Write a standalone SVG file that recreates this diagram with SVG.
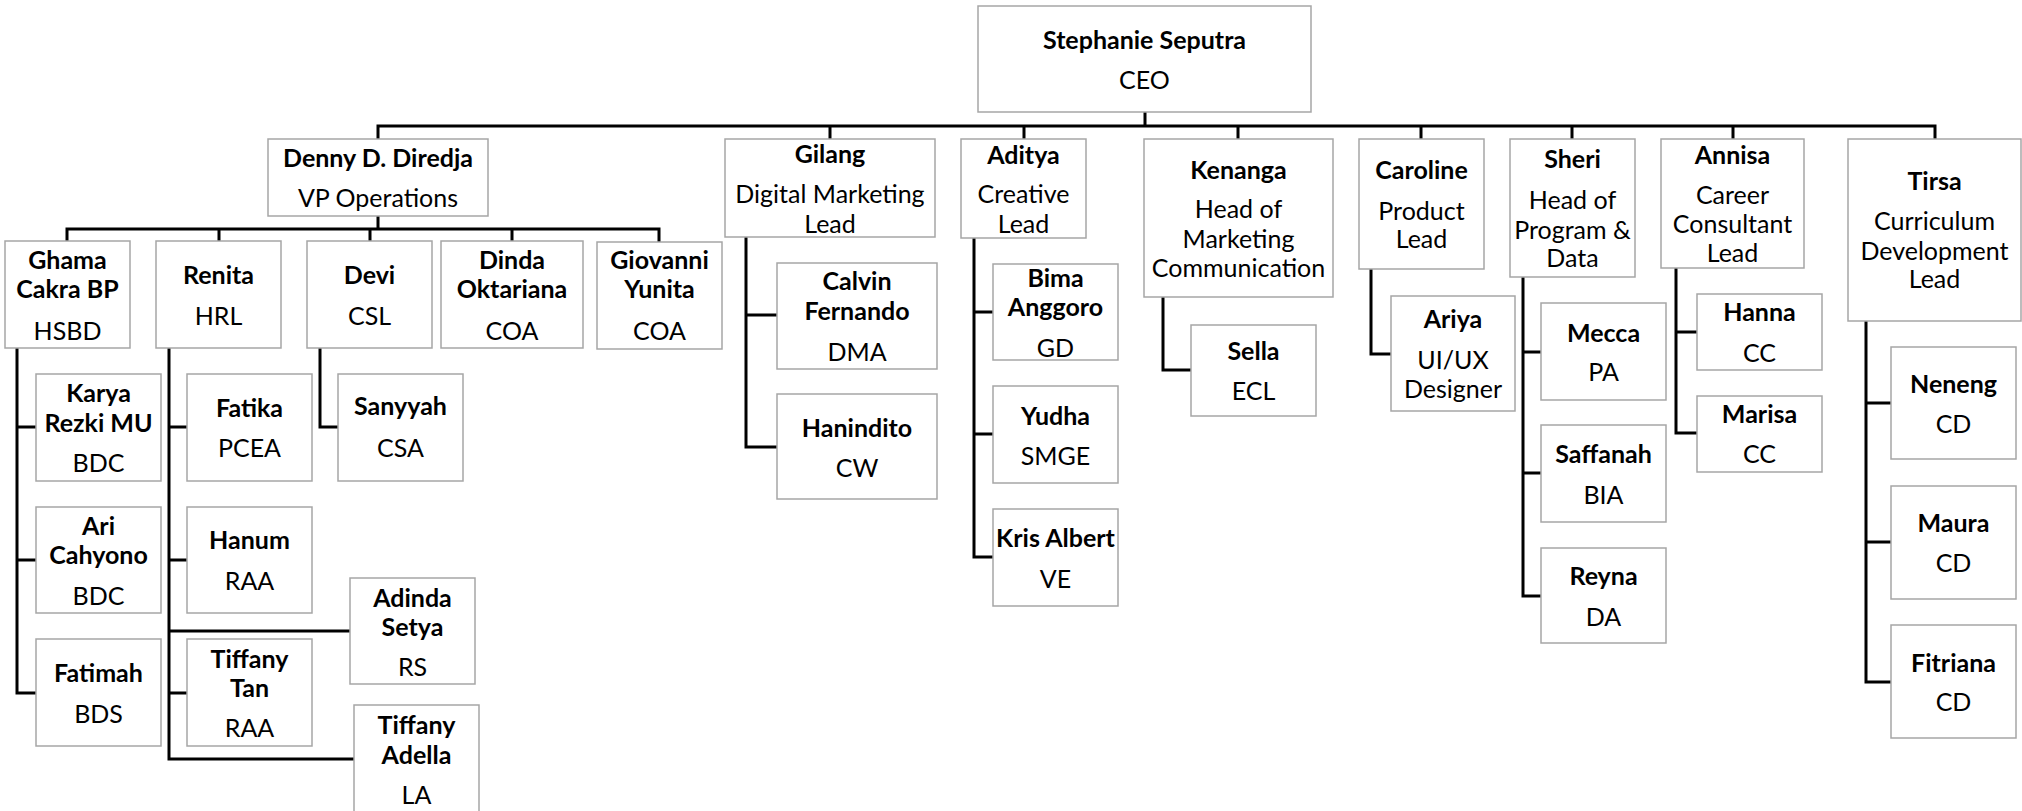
<svg xmlns="http://www.w3.org/2000/svg" width="2022" height="811" viewBox="0 0 2022 811">
<style>
  .box { fill: #ffffff; stroke: #a6a6a6; stroke-width: 1.5; }
  .n { font-family: Lato, "Liberation Sans", sans-serif; font-weight: bold; font-size: 25px; fill: #000; text-anchor: middle; dominant-baseline: central; }
  .t { font-family: Lato, "Liberation Sans", sans-serif; font-size: 25px; fill: #000; text-anchor: middle; dominant-baseline: central; }
  .c { fill: none; stroke: #000; stroke-width: 3; stroke-linecap: square; }
</style>
<rect width="2022" height="811" fill="#ffffff"/>
<g id="connectors">
  <path class="c" d="M1145 112 V126 M378 126 H1935 M378 126 V139 M830 126 V139 M1024 126 V139 M1238 126 V139 M1421 126 V139 M1572 126 V139 M1733 126 V139 M1935 126 V139"/>
  <path class="c" d="M378 216 V229 M67 229 H659 M67 229 V241 M219 229 V241 M370 229 V241 M512 229 V241 M659 229 V241"/>
  <path class="c" d="M17 348 V693 M17 427 H36 M17 560 H36 M17 693 H36"/>
  <path class="c" d="M169 348 V759 M169 427 H187 M169 560 H187 M169 631 H350 M169 693 H187 M169 759 H354"/>
  <path class="c" d="M320 348 V427 H338"/>
  <path class="c" d="M746 237 V447 M746 315 H777 M746 447 H777"/>
  <path class="c" d="M974 238 V557 M974 312 H993 M974 434 H993 M974 557 H993"/>
  <path class="c" d="M1163 297 V370 H1191"/>
  <path class="c" d="M1371 269 V354 H1391"/>
  <path class="c" d="M1523 277 V596 M1523 352 H1541 M1523 473 H1541 M1523 596 H1541"/>
  <path class="c" d="M1676 268 V433 M1676 332 H1697 M1676 433 H1697"/>
  <path class="c" d="M1866 321 V682 M1866 403 H1891 M1866 542 H1891 M1866 682 H1891"/>
</g>
<g id="ceo"><rect class="box" x="978" y="6" width="333" height="106"/><text class="n" x="1144.5" y="39">Stephanie Seputra</text><text class="t" x="1144.5" y="79">CEO</text></g>
<g id="denny"><rect class="box" x="268" y="139" width="220" height="77"/><text class="n" x="378" y="157">Denny D. Diredja</text><text class="t" x="378" y="197">VP Operations</text></g>
<g id="gilang"><rect class="box" x="725" y="139" width="210" height="98"/><text class="n" x="830" y="153">Gilang</text><text class="t" x="830" y="193">Digital Marketing</text><text class="t" x="830" y="223">Lead</text></g>
<g id="aditya"><rect class="box" x="961" y="139" width="125" height="99"/><text class="n" x="1023.5" y="154">Aditya</text><text class="t" x="1023.5" y="193">Creative</text><text class="t" x="1023.5" y="223">Lead</text></g>
<g id="kenanga"><rect class="box" x="1144" y="139" width="189" height="158"/><text class="n" x="1238.5" y="169">Kenanga</text><text class="t" x="1238.5" y="208">Head of</text><text class="t" x="1238.5" y="238">Marketing</text><text class="t" x="1238.5" y="267">Communication</text></g>
<g id="caroline"><rect class="box" x="1359" y="139" width="125" height="130"/><text class="n" x="1421.5" y="169">Caroline</text><text class="t" x="1421.5" y="210">Product</text><text class="t" x="1421.5" y="238">Lead</text></g>
<g id="sheri"><rect class="box" x="1510" y="139" width="125" height="138"/><text class="n" x="1572.5" y="158">Sheri</text><text class="t" x="1572.5" y="199">Head of</text><text class="t" x="1572.5" y="229">Program &amp;</text><text class="t" x="1572.5" y="257">Data</text></g>
<g id="annisa"><rect class="box" x="1661" y="139" width="143" height="129"/><text class="n" x="1732.5" y="154">Annisa</text><text class="t" x="1732.5" y="194">Career</text><text class="t" x="1732.5" y="223">Consultant</text><text class="t" x="1732.5" y="252">Lead</text></g>
<g id="tirsa"><rect class="box" x="1848" y="139" width="173" height="182"/><text class="n" x="1934.5" y="180">Tirsa</text><text class="t" x="1934.5" y="220">Curriculum</text><text class="t" x="1934.5" y="250">Development</text><text class="t" x="1934.5" y="278">Lead</text></g>
<g id="ghama"><rect class="box" x="5" y="241" width="125" height="107"/><text class="n" x="67.5" y="259">Ghama</text><text class="n" x="67.5" y="288">Cakra BP</text><text class="t" x="67.5" y="330">HSBD</text></g>
<g id="renita"><rect class="box" x="156" y="241" width="125" height="107"/><text class="n" x="218.5" y="274">Renita</text><text class="t" x="218.5" y="315">HRL</text></g>
<g id="devi"><rect class="box" x="307" y="241" width="125" height="107"/><text class="n" x="369.5" y="274">Devi</text><text class="t" x="369.5" y="315">CSL</text></g>
<g id="dinda"><rect class="box" x="441" y="241" width="142" height="107"/><text class="n" x="512" y="259">Dinda</text><text class="n" x="512" y="288">Oktariana</text><text class="t" x="512" y="330">COA</text></g>
<g id="giovanni"><rect class="box" x="597" y="242" width="125" height="107"/><text class="n" x="659.5" y="259">Giovanni</text><text class="n" x="659.5" y="288">Yunita</text><text class="t" x="659.5" y="330">COA</text></g>
<g id="karya"><rect class="box" x="36" y="374" width="125" height="107"/><text class="n" x="98.5" y="392">Karya</text><text class="n" x="98.5" y="422">Rezki MU</text><text class="t" x="98.5" y="462">BDC</text></g>
<g id="ari"><rect class="box" x="36" y="507" width="125" height="106"/><text class="n" x="98.5" y="525">Ari</text><text class="n" x="98.5" y="554">Cahyono</text><text class="t" x="98.5" y="595">BDC</text></g>
<g id="fatimah"><rect class="box" x="36" y="639" width="125" height="107"/><text class="n" x="98.5" y="672">Fatimah</text><text class="t" x="98.5" y="713">BDS</text></g>
<g id="fatika"><rect class="box" x="187" y="374" width="125" height="107"/><text class="n" x="249.5" y="407">Fatika</text><text class="t" x="249.5" y="447">PCEA</text></g>
<g id="hanum"><rect class="box" x="187" y="507" width="125" height="106"/><text class="n" x="249.5" y="539">Hanum</text><text class="t" x="249.5" y="580">RAA</text></g>
<g id="adinda"><rect class="box" x="350" y="578" width="125" height="106"/><text class="n" x="412.5" y="597">Adinda</text><text class="n" x="412.5" y="626">Setya</text><text class="t" x="412.5" y="666">RS</text></g>
<g id="tiffany-tan"><rect class="box" x="187" y="639" width="125" height="107"/><text class="n" x="249.5" y="658">Tiffany</text><text class="n" x="249.5" y="687">Tan</text><text class="t" x="249.5" y="727">RAA</text></g>
<g id="tiffany-adella"><rect class="box" x="354" y="705" width="125" height="110"/><text class="n" x="416.5" y="724">Tiffany</text><text class="n" x="416.5" y="754">Adella</text><text class="t" x="416.5" y="794">LA</text></g>
<g id="sanyyah"><rect class="box" x="338" y="374" width="125" height="107"/><text class="n" x="400.5" y="405">Sanyyah</text><text class="t" x="400.5" y="447">CSA</text></g>
<g id="calvin"><rect class="box" x="777" y="263" width="160" height="106"/><text class="n" x="857" y="280">Calvin</text><text class="n" x="857" y="310">Fernando</text><text class="t" x="857" y="351">DMA</text></g>
<g id="hanindito"><rect class="box" x="777" y="394" width="160" height="105"/><text class="n" x="857" y="427">Hanindito</text><text class="t" x="857" y="467">CW</text></g>
<g id="bima"><rect class="box" x="993" y="264" width="125" height="96"/><text class="n" x="1055.5" y="277">Bima</text><text class="n" x="1055.5" y="306">Anggoro</text><text class="t" x="1055.5" y="347">GD</text></g>
<g id="yudha"><rect class="box" x="993" y="386" width="125" height="97"/><text class="n" x="1055.5" y="415">Yudha</text><text class="t" x="1055.5" y="455">SMGE</text></g>
<g id="kris"><rect class="box" x="993" y="509" width="125" height="97"/><text class="n" x="1055.5" y="537">Kris Albert</text><text class="t" x="1055.5" y="578">VE</text></g>
<g id="sella"><rect class="box" x="1191" y="325" width="125" height="91"/><text class="n" x="1253.5" y="350">Sella</text><text class="t" x="1253.5" y="390">ECL</text></g>
<g id="ariya"><rect class="box" x="1391" y="296" width="124" height="115"/><text class="n" x="1453" y="318">Ariya</text><text class="t" x="1453" y="359">UI/UX</text><text class="t" x="1453" y="388">Designer</text></g>
<g id="mecca"><rect class="box" x="1541" y="303" width="125" height="97"/><text class="n" x="1603.5" y="332">Mecca</text><text class="t" x="1603.5" y="371">PA</text></g>
<g id="saffanah"><rect class="box" x="1541" y="425" width="125" height="97"/><text class="n" x="1603.5" y="453">Saffanah</text><text class="t" x="1603.5" y="494">BIA</text></g>
<g id="reyna"><rect class="box" x="1541" y="548" width="125" height="95"/><text class="n" x="1603.5" y="575">Reyna</text><text class="t" x="1603.5" y="616">DA</text></g>
<g id="hanna"><rect class="box" x="1697" y="294" width="125" height="76"/><text class="n" x="1759.5" y="311">Hanna</text><text class="t" x="1759.5" y="352">CC</text></g>
<g id="marisa"><rect class="box" x="1697" y="396" width="125" height="76"/><text class="n" x="1759.5" y="413">Marisa</text><text class="t" x="1759.5" y="453">CC</text></g>
<g id="neneng"><rect class="box" x="1891" y="347" width="125" height="112"/><text class="n" x="1953.5" y="383">Neneng</text><text class="t" x="1953.5" y="423">CD</text></g>
<g id="maura"><rect class="box" x="1891" y="486" width="125" height="113"/><text class="n" x="1953.5" y="522">Maura</text><text class="t" x="1953.5" y="562">CD</text></g>
<g id="fitriana"><rect class="box" x="1891" y="625" width="125" height="113"/><text class="n" x="1953.5" y="662">Fitriana</text><text class="t" x="1953.5" y="701">CD</text></g>
</svg>
